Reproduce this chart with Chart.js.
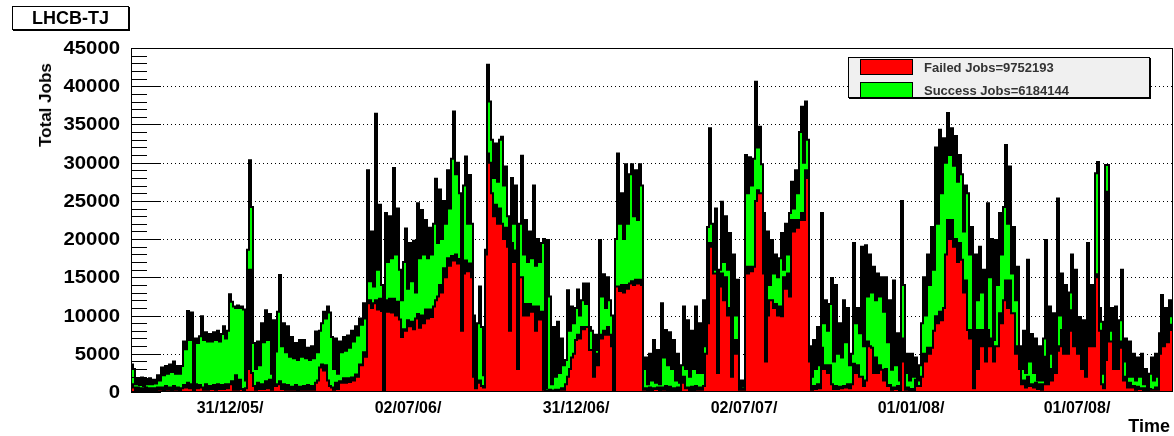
<!DOCTYPE html>
<html>
<head>
<meta charset="utf-8">
<script src="https://cdn.jsdelivr.net/npm/chart.js@4.4.1/dist/chart.umd.min.js"></script>
<style>
  html, body { margin: 0; padding: 0; background: #fff; }
  #wrap { position: relative; width: 1174px; height: 436px; overflow: hidden;
          font-family: "Liberation Sans", Arial, Helvetica, sans-serif; }
  #chart { position: absolute; left: 0; top: 0; }
  .pave { position: absolute; background: #fff; border: 1px solid #000; box-shadow: 1px 1px 0 #000; }
  #title { left: 12px; top: 6px; width: 115px; height: 22px; font-weight: bold; font-size: 18px;
           line-height: 23px; text-align: center; }
  #legend { left: 848px; top: 57px; width: 300px; height: 39px; background: #f0f0f0; }
  .row { position: absolute; left: 11px; height: 16px; font-weight: bold; font-size: 13px; color: #333; }
  .sw { position: absolute; left: 0; top: 0; width: 51px; height: 14px; border: 1px solid #000; }
  .txt { position: absolute; left: 64px; top: 0; line-height: 17px; white-space: nowrap; }
  #ytitle { position: absolute; left: 46px; top: 105px; transform: translate(-50%, -50%) rotate(-90deg);
            font-weight: bold; font-size: 17px; white-space: nowrap; }
  #xtitle { position: absolute; right: 4px; top: 416px; font-weight: bold; font-size: 18px; line-height: 20px; }
</style>
</head>
<body>
<div id="wrap">
  <canvas id="chart" width="1174" height="436"></canvas>
  <div id="title" class="pave">LHCB-TJ</div>
  <div id="legend" class="pave">
    <div class="row" style="top:1px"><div class="sw" style="background:#ff0000"></div><div class="txt">Failed Jobs=9752193</div></div>
    <div class="row" style="top:24px"><div class="sw" style="background:#00ff00"></div><div class="txt">Success Jobs=6184144</div></div>
  </div>
  <div id="ytitle">Total Jobs</div>
  <div id="xtitle">Time</div>
</div>
<script>
// Jobs per time bin, Sep 2005 - Oct 2008
const failedJobs = [
  1000,600,200,600,100,500,100,600,200,500,
  200,500,200,600,300,600,200,800,300,600,
  200,800,300,600,200,500,900,600,1200,500,
  1000,100,1000,500,900,600,300,1000,300,800,
  400,900,300,1000,400,900,400,1000,500,1000,
  1400,300,2200,300,1600,400,200,500,3000,16000,
  2500,800,300,1200,400,1000,400,1400,500,1600,
  300,5300,800,1000,1400,400,1000,300,900,300,
  700,300,900,200,700,300,800,300,900,300,
  800,300,1200,1500,3200,3600,2800,3500,1500,800,
  600,300,1200,400,1400,1200,1800,1200,1800,1300,
  1900,1500,2300,2000,3600,3500,5200,4600,11600,12000,
  11000,11600,12000,10800,12200,10600,100,12000,10500,12200,
  10400,12200,10000,11800,9500,7200,8200,8000,9400,8600,
  9200,8200,9600,10200,8400,10000,9000,10800,9600,10800,
  9800,11200,12000,12500,14000,13000,16200,15000,17500,16500,
  17800,17200,18000,16800,17400,8000,15500,17200,15800,16800,
  15000,2000,500,1200,1500,800,600,18000,31200,30000,
  26000,23000,24500,22000,24000,22000,20000,21500,19000,8000,
  19500,17000,18500,3000,15000,15000,10000,11500,10000,11500,
  10500,11200,8000,11200,9500,10500,300,200,200,300,
  100,200,300,200,300,500,300,1000,2000,3000,
  4500,5000,6800,7500,7000,8500,8200,8500,8500,5500,
  5500,2000,5000,3500,7500,7000,8000,7500,8500,7500,
  6000,100,13800,13800,13200,14000,13000,14000,13500,14200,
  14500,14000,14700,14200,14700,14000,300,500,200,600,
  200,500,400,600,200,600,300,800,200,700,
  200,500,200,600,200,1200,2000,500,600,200,
  700,200,800,300,600,300,800,5000,9000,19500,
  19000,15500,15500,2500,13800,15500,12000,15000,10000,11000,
  2000,6800,5000,6800,300,500,300,16400,15500,16400,
  15800,16400,25000,26400,26000,26000,15500,4000,10000,12000,
  12000,11000,11500,10000,11200,9900,15000,13500,15500,12500,
  22500,21000,22500,21500,22500,23400,22500,29000,28000,4000,
  300,800,400,1000,500,5800,3000,3500,2500,3500,
  1000,400,800,400,700,500,800,600,1000,500,
  1000,3700,2500,3500,2000,2000,800,1500,6600,6000,
  5800,2500,4500,2500,3500,2900,1500,3000,800,900,
  300,600,400,800,200,7000,4000,300,600,200,
  400,200,1600,800,800,2000,5000,4000,5800,5000,
  5800,8000,9900,9000,10500,9400,11000,18000,22500,20000,
  22500,19000,20000,17000,19500,17300,13000,14600,8100,7000,
  8100,500,8100,3000,8100,6000,8100,4000,8100,6000,
  7000,4000,6000,6000,10300,9000,12000,14600,11000,14600,
  10300,10300,5000,6000,3000,1000,1500,600,2000,800,
  1000,600,1200,400,1000,300,1000,4600,1000,3000,
  1500,5400,2500,5400,6000,8100,5000,8500,5000,8000,
  10700,6000,9000,5000,6800,3000,6800,2000,9400,6000,
  9400,6000,15000,15400,8000,1000,500,4200,26200,6600,
  6600,3000,6600,3000,6600,5800,1500,2000,600,1200,
  600,800,300,700,400,500,200,500,100,400,
  300,300,600,300,5000,9000,6000,9000,6500,8100,
  8800
];
const successJobs = [
  2600,2400,800,1200,800,1400,700,1100,800,1300,
  800,1100,900,1600,1200,2600,2000,2600,2100,3000,
  2400,3200,2100,2800,2200,2900,5700,5000,9400,6300,
  9400,100,6000,5900,6400,9300,6500,6800,6300,6800,
  6200,6900,6500,7000,6200,6700,8200,6000,7500,11800,
  10400,10900,8800,11000,9400,10800,10600,1000,15600,14300,
  21700,5600,2700,5400,3100,8000,6100,9300,6300,8600,
  2100,4100,4500,9500,13900,5600,8000,4900,7700,4300,
  6500,4100,5500,4000,6100,4300,6000,4100,4900,3900,
  5200,4100,6700,3700,4800,5400,7700,6100,9700,9600,
  6600,2700,5800,2000,5200,4000,5400,4200,5600,4500,
  6100,5100,6300,5400,6000,5300,6400,5000,17400,2500,
  10000,2200,24400,5200,12300,3400,200,11400,6500,10800,
  7100,17100,8000,12200,6500,4800,8800,13400,4100,10900,
  5300,11600,3400,14500,9100,13800,9000,11700,7900,10700,
  8200,10800,15900,7000,12500,7000,8800,7000,11500,7500,
  12700,19500,10500,13200,8600,0,11500,13600,6200,11600,
  7000,8000,900,7800,12300,7700,1600,600,11600,8000,
  7000,5000,8000,5500,9000,11400,7000,8000,4000,500,
  8500,5000,8500,300,7000,15900,8000,11000,7000,9500,
  7000,15800,8500,8800,7500,9000,19700,300,19700,12200,
  900,8300,1700,9000,2200,6500,3200,3200,11300,5000,
  6700,4000,4200,5900,3000,3500,6000,3000,5700,3000,
  2500,2000,2500,2000,12400,5500,7400,3500,6500,4500,
  4000,100,6200,17400,8800,12000,7000,15800,8500,14300,
  15300,9000,14300,8300,15100,13000,2700,4000,800,4400,
  1300,6300,800,4900,800,11000,4200,7300,3300,7100,
  2800,6300,1300,4400,1000,2300,9200,2500,8800,1800,
  7300,2800,10400,2200,8400,2200,11200,1000,12600,15000,
  3000,500,8500,500,2200,9400,5000,8000,6000,9800,
  400,11200,5000,7900,200,1000,500,14600,10500,14300,
  11200,14100,15600,5600,8700,3800,7900,500,11000,2000,
  7900,4500,6500,5000,6300,10900,1000,8500,2500,10900,
  5000,3000,6500,4500,11500,13900,7500,9000,5000,2000,
  1700,6000,2600,7500,3000,17600,6000,8500,5500,8000,
  13900,3600,13200,4600,8300,4000,11200,5900,10000,3000,
  4000,15800,6500,7500,5700,17000,5200,17700,5900,12000,
  7200,13900,7500,13000,9000,12100,9000,12000,5700,11100,
  2600,14000,3100,6900,1300,18000,10000,2200,4400,1300,
  4600,1800,2900,700,2700,7000,10000,6000,12200,9000,
  15800,8000,22100,13000,23800,16600,22200,12000,14000,11000,
  12000,10600,13500,10500,11500,11200,8000,12400,17900,11000,
  13500,500,9900,9000,10900,7000,7900,2000,16600,9000,
  13000,2800,13900,8000,13100,9000,12200,17700,11000,14900,
  5200,11300,7000,10400,3000,2000,6500,1900,15300,3200,
  6600,1900,5800,1100,5000,1200,6000,15300,2000,8200,
  3500,4900,2500,19900,4000,7400,3000,5500,2000,5000,
  7300,3000,7000,1800,3000,2000,2600,1300,10100,3000,
  4600,3000,13600,14700,3000,8200,1900,25500,3500,1400,
  4400,3000,4600,2000,2800,10200,2500,5000,1400,5400,
  1400,4200,1200,3800,1600,4500,800,2500,400,2000,
  4200,1200,4400,1700,2700,3700,1500,2000,1500,3900,
  1100
];
// Date labels on the time axis and the bin positions they sit at
const tickLabels = ['31/12/05/', '02/07/06/', '31/12/06/', '02/07/07/', '01/01/08/', '01/07/08/'];
const tickBins = [49.5, 138.5, 222.5, 306.5, 390, 473];

const nBins = failedJobs.length;
// stepped points: each value holds over [i, i+1], closing point at the right edge
const toSteps = arr => arr.map((v, i) => ({ x: i, y: v })).concat([{ x: arr.length, y: arr[arr.length - 1] }]);

const fontFamily = '"Liberation Sans", Arial, sans-serif';
const majorStep = 5000, minorStep = 1000;

// dotted horizontal grid behind the histograms
const dottedGrid = {
  id: 'dottedGrid',
  beforeDatasetsDraw(chart) {
    const { ctx, chartArea: a, scales: { y } } = chart;
    ctx.save();
    ctx.strokeStyle = '#000';
    ctx.lineWidth = 1;
    ctx.setLineDash([1, 3]);
    for (let v = majorStep; v <= y.max; v += majorStep) {
      const py = Math.round(y.getPixelForValue(v)) + 0.5;
      ctx.beginPath();
      ctx.moveTo(a.left, py);
      ctx.lineTo(a.right, py);
      ctx.stroke();
    }
    ctx.restore();
  }
};

// frame, inward major/minor ticks and wide bold value labels
const rootFrame = {
  id: 'rootFrame',
  afterDatasetsDraw(chart) {
    const { ctx, chartArea: a, scales: { y } } = chart;
    ctx.save();
    ctx.strokeStyle = '#000';
    ctx.lineWidth = 1;
    ctx.strokeRect(a.left + 0.5, a.top + 0.5, a.right - a.left - 1, a.bottom - a.top - 1);
    for (let v = y.min; v <= y.max; v += minorStep) {
      const py = Math.round(y.getPixelForValue(v)) + 0.5;
      const len = v % majorStep === 0 ? 30 : 16;
      ctx.beginPath();
      ctx.moveTo(a.left, py);
      ctx.lineTo(a.left + len, py);
      ctx.stroke();
    }
    ctx.fillStyle = '#000';
    ctx.font = 'bold 18px ' + fontFamily;
    ctx.textAlign = 'right';
    ctx.textBaseline = 'middle';
    y.ticks.forEach(t => {
      ctx.save();
      ctx.translate(a.left - 11, y.getPixelForValue(t.value) + 1);
      ctx.scale(1.13, 1);
      ctx.fillText(String(t.value), 0, 0);
      ctx.restore();
    });
    ctx.restore();
  }
};

new Chart(document.getElementById('chart'), {
  type: 'line',
  data: {
    datasets: [
      { label: 'Failed Jobs', data: toSteps(failedJobs), fill: 'origin', backgroundColor: '#ff0000',
        borderColor: '#000', borderWidth: 2, stepped: true, pointRadius: 0, tension: 0 },
      { label: 'Success Jobs', data: toSteps(successJobs), fill: '-1', backgroundColor: '#00ff00',
        borderColor: '#000', borderWidth: 2, stepped: true, pointRadius: 0, tension: 0 }
    ]
  },
  options: {
    responsive: false,
    animation: false,
    devicePixelRatio: 1,
    layout: { padding: { top: 48, right: 1, left: 0, bottom: 0 } },
    plugins: { legend: { display: false }, tooltip: { enabled: false } },
    scales: {
      x: {
        type: 'linear', min: 0, max: nBins,
        grid: { display: false, drawTicks: false },
        border: { display: false },
        afterBuildTicks(s) { s.ticks = tickBins.map(v => ({ value: v })); },
        afterFit(s) { s.height = 44; },
        ticks: { autoSkip: false, maxRotation: 0, padding: 7, color: '#000',
                 font: { family: fontFamily, weight: 'bold', size: 16 },
                 callback: v => tickLabels[tickBins.indexOf(v)] }
      },
      y: {
        stacked: true, min: 0, max: 45000,
        grid: { display: false, drawTicks: false },
        border: { display: false },
        afterFit(s) { s.width = 131; },
        ticks: { stepSize: majorStep, display: false }
      }
    }
  },
  plugins: [dottedGrid, rootFrame]
});
</script>
</body>
</html>
